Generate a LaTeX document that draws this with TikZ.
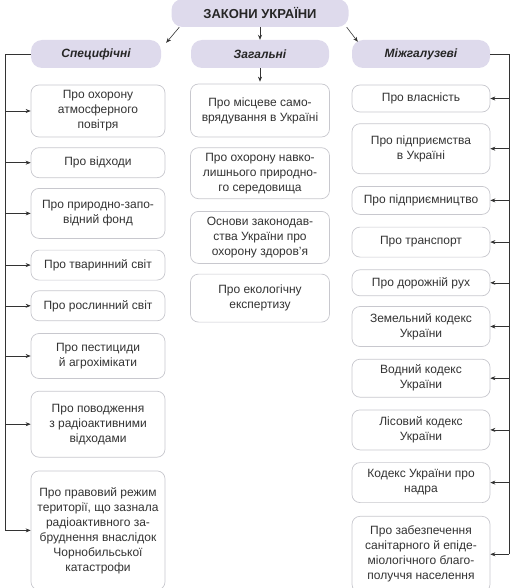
\documentclass[tikz,border=0pt]{standalone}
\usepackage{fontspec}
\setmainfont{Liberation Sans}
\usepackage{xcolor}
\usepackage{tikz}
\usetikzlibrary{arrows.meta,positioning}
\definecolor{grouplilac}{RGB}{222,218,236}
\definecolor{boxline}{RGB}{200,200,206}
\newcommand\lawfont{\fontsize{12}{15}\selectfont}
\newcommand\titlefont{\fontsize{13}{15}\selectfont}

\begin{document}
\begin{tikzpicture}[
  x=1pt, y=-1pt,
  law/.style={rectangle, draw=boxline, fill=white, line width=0.7pt,
              rounded corners=8pt, align=center, inner sep=0pt,
              font=\lawfont, text=black!80},
  lbox/.style={law, minimum width=134pt, minimum height=#1},
  gbox/.style={law, minimum width=139pt, minimum height=#1},
  mbox/.style={law, minimum width=138pt, minimum height=#1},
  group/.style={rectangle, fill=grouplilac, rounded corners=11pt,
                minimum height=28pt, inner sep=0pt, text=black!85,
                font=\lawfont\bfseries\itshape},
  fwd/.style={-{Stealth[length=5pt,width=4pt]}, draw=black!80, line width=0.6pt},
  rail/.style={draw=black!80, line width=0.6pt}
]
  \useasboundingbox (0,0) rectangle (514,588);

  % top and the three groups
  \node[group, minimum width=177pt, font=\titlefont\bfseries] (laws) at (260,13) {ЗАКОНИ УКРАЇНИ};
  \node[group, minimum width=130pt] (spec)  at (96,54)  {Специфічні};
  \node[group, minimum width=138pt] (gen)   at (260,54) {Загальні};
  \node[group, minimum width=138pt] (inter) at (421,54) {Міжгалузеві};

  % left column
  \node[lbox=52pt] (s1) at (98,111) {Про охорону\\атмосферного\\повітря};
  \node[lbox=30pt, below=10pt of s1] (s2) {Про відходи};
  \node[lbox=50pt, below=10pt of s2] (s3) {Про природно-запо-\\відний фонд};
  \node[lbox=30pt, below=11pt of s3] (s4) {Про тваринний світ};
  \node[lbox=30pt, below=10pt of s4] (s5) {Про рослинний світ};
  \node[lbox=45pt, below=12pt of s5] (s6) {Про пестициди\\й агрохімікати};
  \node[lbox=66pt, below=12pt of s6] (s7) {Про поводження\\з радіоактивними\\відходами};
  \node[lbox=119pt, below=13pt of s7] (s8) {Про правовий режим\\території, що зазнала\\радіоактивного за-\\бруднення внаслідок\\Чорнобильської\\катастрофи};

  % middle column
  \node[gbox=53pt] (g1) at (260,110.5) {Про місцеве само-\\врядування в Україні};
  \node[gbox=51pt, below=10pt of g1] (g2) {Про охорону навко-\\лишнього природно-\\го середовища};
  \node[gbox=52pt, below=12pt of g2] (g3) {Основи законодав-\\ства України про\\охорону здоров’я};
  \node[gbox=48pt, below=10pt of g3] (g4) {Про екологічну\\експертизу};

  % right column
  \node[mbox=27pt] (m1) at (421,98.5) {Про власність};
  \node[mbox=50pt, below=11pt of m1] (m2) {Про підприємства\\в Україні};
  \node[mbox=28pt, below=12pt of m2] (m3) {Про підприємництво};
  \node[mbox=30pt, below=12pt of m3] (m4) {Про транспорт};
  \node[mbox=26pt, below=12pt of m4] (m5) {Про дорожній рух};
  \node[mbox=40pt, below=10pt of m5] (m6) {Земельний кодекс\\України};
  \node[mbox=38pt, below=12pt of m6] (m7) {Водний кодекс\\України};
  \node[mbox=40pt, below=12pt of m7] (m8) {Лісовий кодекс\\України};
  \node[mbox=40pt, below=12pt of m8] (m9) {Кодекс України про\\надра};
  \node[mbox=76pt, below=13pt of m9] (m10) {Про забезпечення\\санітарного й епіде-\\міологічного благо-\\получчя населення};

  % arrows from the top
  \draw[fwd] ([xshift=8pt]laws.south west) -- ([xshift=5pt,yshift=-3pt]spec.north east);
  \draw[fwd] (laws.south) -- (gen.north);
  \draw[fwd] ([xshift=-2pt]laws.south east) -- ([xshift=6pt,yshift=-2pt]inter.north west);
  \draw[fwd] (gen.south) -- ([yshift=2pt]g1.north);

  % side rails
  \coordinate (lrail) at (5,54);
  \coordinate (rrail) at (509,54);
  \draw[rail] (spec.west) -- (lrail) -- (lrail |- s8.west);
  \draw[rail] (inter.east) -- (rrail) -- (rrail |- m10.east);
  \foreach \i in {1,...,8}
    \draw[fwd] (lrail |- s\i.west) -- (s\i.west);
  \foreach \i in {1,...,10}
    \draw[fwd] (rrail |- m\i.east) -- (m\i.east);
\end{tikzpicture}
\end{document}
